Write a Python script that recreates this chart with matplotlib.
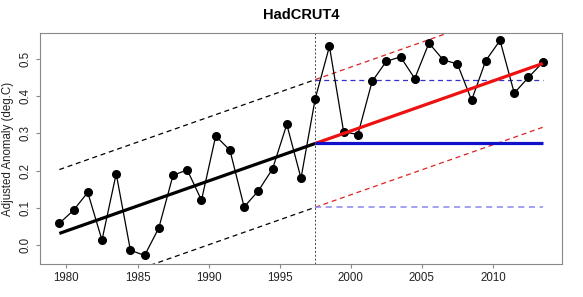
import numpy as np
import matplotlib.pyplot as plt

plt.rcParams['font.family'] = ['Liberation Sans', 'DejaVu Sans']

# annual anomalies, plotted at mid-year
years = np.arange(1979, 2014) + 0.5
anom = [0.059, 0.094, 0.142, 0.014, 0.192, -0.013, -0.027, 0.047, 0.188, 0.202,
        0.121, 0.293, 0.255, 0.103, 0.146, 0.205, 0.324, 0.180, 0.393, 0.533,
        0.304, 0.297, 0.439, 0.493, 0.505, 0.447, 0.542, 0.497, 0.486, 0.389,
        0.495, 0.549, 0.408, 0.450, 0.490]

break_year = 1997.5
trend_start = 0.032    # trend value at 1979.5
trend_break = 0.273    # trend value at 1997.5
band = 0.171           # half width of dashed envelope

fig = plt.figure(figsize=(5.83, 2.97), dpi=100)
ax = fig.add_axes([0.0686, 0.111, 0.8954, 0.778])

gray = '#888888'
for s in ax.spines.values():
    s.set_color(gray)

x0, x1 = years[0], years[-1]
slope = (trend_break - trend_start) / (break_year - x0)
xa = np.array([x0, break_year])
xb = np.array([break_year, x1])
ya = trend_start + slope * (xa - x0)
yb = trend_break + slope * (xb - break_year)

# envelope before break
ax.plot(xa, ya + band, color='black', lw=0.9, ls=(0, (4, 3)))
ax.plot(xa, ya - band, color='black', lw=0.9, ls=(0, (4, 3)))
# envelope after break
ax.plot(xb, yb + band, color='#dd2222', lw=0.9, ls=(0, (4, 3)))
ax.plot(xb, yb - band, color='#dd2222', lw=0.9, ls=(0, (4, 3)))
ax.plot(xb, [trend_break + band] * 2, color='#3333cc', lw=0.9, ls=(0, (4, 3)))
ax.plot(xb, [trend_break - band] * 2, color='#8888ee', lw=1.1, ls=(0, (4, 3)))

ax.axvline(break_year, color='#444444', lw=0.7, ls=(0, (2, 2)))

ax.plot(years, anom, color='black', lw=0.9, marker='o', ms=5.5)

ax.plot(xa, ya, color='black', lw=2.3, solid_capstyle='butt')
ax.plot(xb, yb, color='#ee1111', lw=2.3, solid_capstyle='butt')
ax.plot(xb, [trend_break] * 2, color='#1111cc', lw=2.3, solid_capstyle='butt')

ax.set_xlim(1978.14, 2014.86)
ax.set_ylim(-0.05, 0.569)
ax.set_xticks([1980, 1985, 1990, 1995, 2000, 2005, 2010])
ax.set_yticks([0.0, 0.1, 0.2, 0.3, 0.4, 0.5])
ax.set_yticklabels(['0.0', '0.1', '0.2', '0.3', '0.4', '0.5'], rotation=90, va='center')
ax.tick_params(axis='both', labelsize=8.3, length=3, width=0.8, color=gray,
               labelcolor='#222222', pad=3)
ax.set_ylabel('Adjusted Anomaly (deg.C)', fontsize=8.3, color='#222222', labelpad=4)
ax.set_title('HadCRUT4', fontsize=10.5, fontweight='bold', pad=10)

fig.savefig('out.png', dpi=100)
